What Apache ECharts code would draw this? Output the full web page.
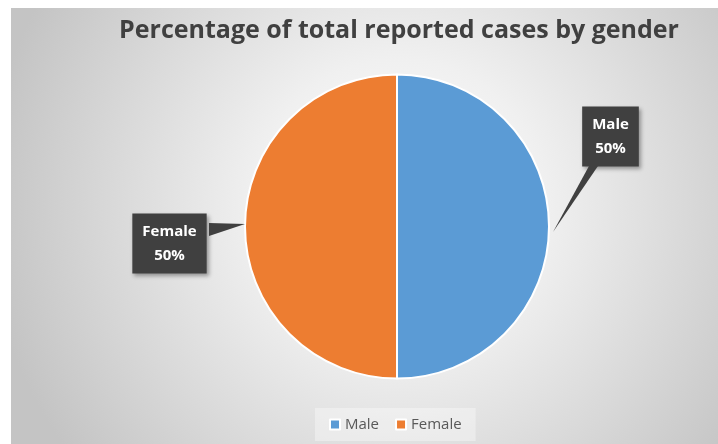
<!DOCTYPE html>
<html>
<head>
    <meta charset="utf-8">
    <title>Percentage of total reported cases by gender</title>
    <script src="https://cdn.jsdelivr.net/npm/echarts@6.0.0/dist/echarts.min.js"></script>
    <style>
        body { margin: 0; background: #fff; }
        #main { position: absolute; left: 11px; top: 8px; width: 707px; height: 436px; }
    </style>
</head>
<body>
    <div id="main"></div>
    <script type="text/javascript">
        // data
        const categories = ['Male', 'Female'];
        const values = [50, 50];
        const colors = ['#5B9BD5', '#ED7D31'];

        // callout boxes (centre of label) and their pointer triangles
        const labelPos = [[599.5, 128.5], [158.5, 235.5]];
        const pointers = [
            [[578, 158], [587, 158], [542, 224]],
            [[198, 215], [198, 228], [234, 216]]
        ];

        var myChart = echarts.init(document.getElementById('main'));

        var option = {
            backgroundColor: new echarts.graphic.RadialGradient(0.55, 0.45, 0.95, [
                { offset: 0, color: '#ffffff' },
                { offset: 0.35, color: '#f0f0f0' },
                { offset: 1, color: '#c4c4c4' }
            ]),
            title: {
                text: 'Percentage of total reported cases by gender',
                left: 383,
                top: 5,
                textAlign: 'center',
                textStyle: { color: '#404040', fontSize: 25, fontWeight: 'bold', fontFamily: 'Open Sans' }
            },
            legend: {
                data: categories,
                left: 304,
                bottom: 3,
                icon: 'rect',
                itemWidth: 10,
                itemHeight: 10,
                itemGap: 16,
                padding: [9, 14],
                backgroundColor: 'rgba(255,255,255,0.35)',
                itemStyle: { borderColor: '#fff', borderWidth: 2 },
                textStyle: { color: '#595959', fontSize: 15, fontFamily: 'Open Sans' }
            },
            graphic: pointers.map(pts => ({
                type: 'polygon',
                shape: { points: pts },
                style: { fill: '#404040' },
                z: 5
            })),
            series: [{
                type: 'pie',
                center: [386, 218.5],
                radius: 152,
                startAngle: 90,
                clockwise: true,
                z: 2,
                itemStyle: { borderColor: '#fff', borderWidth: 2 },
                data: categories.map((c, i) => ({ name: c, value: values[i], itemStyle: { color: colors[i] } })),
                label: {
                    show: true,
                    formatter: '{b}\n{d}%',
                    color: '#fff',
                    fontSize: 15,
                    fontWeight: 'bold',
                    fontFamily: 'Open Sans',
                    lineHeight: 24,
                    align: 'center',
                    backgroundColor: '#404040',
                    padding: [6, 10],
                    shadowColor: 'rgba(0,0,0,0.35)',
                    shadowBlur: 4,
                    shadowOffsetX: 2,
                    shadowOffsetY: 2
                },
                labelLine: { show: false },
                labelLayout: function (params) {
                    const p = labelPos[params.dataIndex];
                    return { x: p[0], y: p[1], align: 'center', verticalAlign: 'middle' };
                },
                emphasis: { disabled: true }
            }]
        };

        myChart.setOption(option);
    </script>
</body>
</html>
